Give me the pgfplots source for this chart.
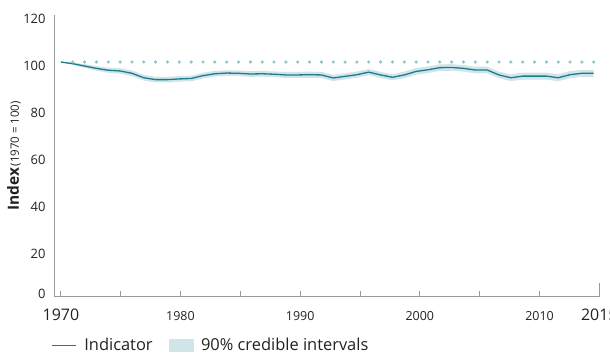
\documentclass[border=0pt]{standalone}
\usepackage{pgfplots}
\pgfplotsset{compat=1.18}
\usepackage{pgfplotstable}
\usepgfplotslibrary{fillbetween}
\usepackage{fontspec}
\setmainfont{Open Sans}
\definecolor{linecol}{HTML}{1F7A8C}
\definecolor{bandcol}{HTML}{CFE5EA}
\definecolor{dotcol}{HTML}{8FC4CF}
\definecolor{axcol}{HTML}{9A9A9A}
\definecolor{txt}{HTML}{222222}

\pgfplotstableread{
year mean lo hi
1970 100.0 100.0 100.0
1971 99.3 98.8 99.8
1972 98.3 97.5 99.1
1973 97.3 96.3 98.3
1974 96.5 95.4 97.6
1975 96.2 95.0 97.4
1976 95.2 94.0 96.4
1977 93.3 92.1 94.5
1978 92.5 91.3 93.7
1979 92.5 91.3 93.7
1980 92.8 91.6 94.0
1981 93.0 91.8 94.2
1982 94.2 93.0 95.4
1983 95.0 93.8 96.2
1984 95.3 94.1 96.5
1985 95.2 94.0 96.4
1986 94.9 93.7 96.1
1987 95.0 93.8 96.2
1988 94.8 93.6 96.0
1989 94.5 93.2 95.8
1990 94.5 93.2 95.8
1991 94.6 93.3 95.9
1992 94.5 93.2 95.8
1993 93.2 91.9 94.5
1994 93.9 92.6 95.2
1995 94.6 93.3 95.9
1996 95.7 94.4 97.0
1997 94.5 93.2 95.8
1998 93.5 92.2 94.8
1999 94.5 93.1 95.9
2000 96.0 94.6 97.4
2001 96.7 95.3 98.1
2002 97.6 96.2 99.0
2003 97.7 96.3 99.1
2004 97.3 95.9 98.7
2005 96.6 95.2 98.0
2006 96.6 95.2 98.0
2007 94.5 93.1 95.9
2008 93.3 91.9 94.7
2009 94.0 92.5 95.5
2010 94.0 92.5 95.5
2011 94.0 92.5 95.5
2012 93.3 91.8 94.8
2013 94.6 93.1 96.1
2014 95.2 93.7 96.7
2015 95.2 93.7 96.7
}\datatable

\pgfplotstableread{
year ref
1971 100
1972 100
1973 100
1974 100
1975 100
1976 100
1977 100
1978 100
1979 100
1980 100
1981 100
1982 100
1983 100
1984 100
1985 100
1986 100
1987 100
1988 100
1989 100
1990 100
1991 100
1992 100
1993 100
1994 100
1995 100
1996 100
1997 100
1998 100
1999 100
2000 100
2001 100
2002 100
2003 100
2004 100
2005 100
2006 100
2007 100
2008 100
2009 100
2010 100
2011 100
2012 100
2013 100
2014 100
2015 100
}\reftable

\begin{document}
\begin{tikzpicture}
\begin{axis}[
  scale only axis,
  width=544.8bp, height=281.6bp,
  xmin=1969.46, xmax=2015.47,
  ymin=0, ymax=120,
  axis lines=left,
  axis line style={-, draw=axcol, line width=1.2bp},
  tick align=inside,
  xtick={1970,1975.05,1980.1,1985.16,1990.21,1995.26,2000.31,2005.37,2010.42},
  xticklabels={{\fontsize{16}{16}\selectfont 1970},,1980,,1990,,2000,,2010},
  extra x ticks={2015.47},
  extra x tick labels={{\fontsize{16}{16}\selectfont 2015}},
  extra x tick style={major tick length=14bp, tick style={draw=axcol, line width=1bp}},
  x tick style={draw=axcol, line width=1bp},
  major tick length=6bp,
  xticklabel style={anchor=base, yshift=-24bp, font=\fontsize{12.5}{12.5}\selectfont, text=txt},
  ytick={0,20,40,60,80,100,120},
  yticklabels={\raisebox{6.6bp}{0},20,40,60,80,100,120},
  y tick style={draw=none},
  yticklabel style={anchor=base east, xshift=-5.5bp, yshift=-8.6bp, font=\fontsize{13}{13}\selectfont, text=txt},
  /pgf/number format/assume math mode=true,
  ylabel={{\fontsize{15.5}{15.5}\selectfont\bfseries Index}\,{\fontsize{11.5}{11.5}\selectfont (1970 = 100)}},
  ylabel style={at={(axis description cs:-0.0743,0.5)}, anchor=center, rotate=0, text=txt},
  legend style={at={(axis description cs:0,0)}, anchor=north west, xshift=-3bp, yshift=-39.5bp, draw=none, fill=none,
    inner sep=0pt, outer sep=0pt, font=\fontsize{16.5}{16.5}\selectfont, text=txt,
    legend columns=2, /tikz/every even column/.append style={column sep=14bp},
    legend cell align=left},
  clip=false,
]
\addplot[name path=hi, draw=none, forget plot] table[x=year, y=hi] {\datatable};
\addplot[name path=lo, draw=none, forget plot] table[x=year, y=lo] {\datatable};
\addplot[fill=bandcol, draw=none, forget plot] fill between[of=hi and lo];
\addplot[only marks, color=dotcol, mark=*, mark size=1.4bp, mark options={fill=dotcol, draw=none}, forget plot] table[x=year, y=ref] {\reftable};
\addplot[linecol, line width=1.3bp, forget plot] table[x=year, y=mean] {\datatable};
\addlegendimage{legend image code/.code={\draw[linecol, line width=1.3bp] (0bp,0bp) -- (24bp,0bp); \path (30bp,0bp);}}
\addlegendentry{Indicator}
\addlegendimage{legend image code/.code={\fill[bandcol] (0bp,-6bp) rectangle (24bp,6bp); \path (30bp,0bp);}}
\addlegendentry{90\% credible intervals}
\coordinate (bl) at (rel axis cs:0,0);
\coordinate (tr) at (rel axis cs:1,1);
\end{axis}
\pgfresetboundingbox
\path ([xshift=-54.5bp,yshift=-56.3bp]bl) rectangle ([xshift=10.7bp,yshift=15.1bp]tr);
\end{tikzpicture}
\end{document}
